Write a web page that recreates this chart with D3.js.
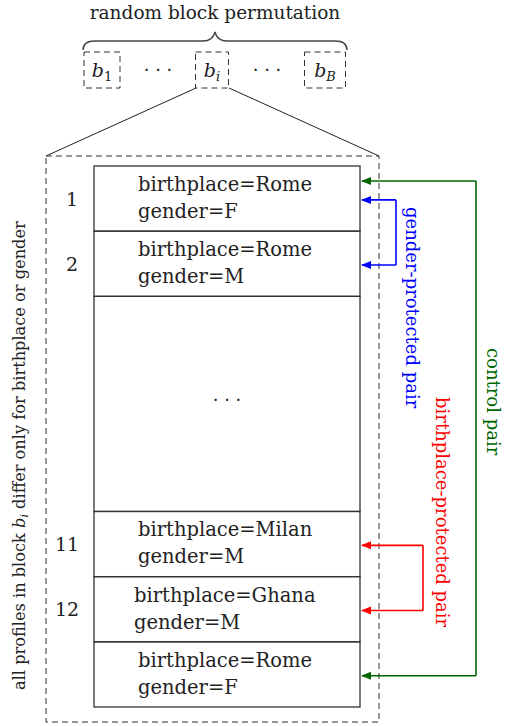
<!DOCTYPE html>
<html><head><meta charset="utf-8">
<script src="https://cdn.jsdelivr.net/npm/d3@7"></script>
<style>body{margin:0;background:#fff;} text{font-family:"DejaVu Serif",serif;fill:#222;}</style>
</head><body>
<svg id="c" width="505" height="726"></svg>
<script>
// ---- data ----
const title = "random block permutation";
const blocks = ["1", "···", "i", "···", "B"];
const rowIds = ["1", "2", "…", "11", "12", ""];
const birthplaces = ["Rome", "Rome", null, "Milan", "Ghana", "Rome"];
const genders = ["F", "M", null, "M", "M", "F"];
const rowWeights = [1, 1, 3.3, 1, 1, 1];
const pairs = [
  {name: "gender-protected pair", from: 0, to: 1, color: "#0000ff", fromFrac: 0.52, toFrac: 0.52},
  {name: "birthplace-protected pair", from: 3, to: 4, color: "#ff0000", fromFrac: 0.52, toFrac: 0.52},
  {name: "control pair", from: 0, to: 5, color: "#006600", fromFrac: 0.23, toFrac: 0.52}
];
const sideLabel = "all profiles in block ";

const svg = d3.select("#c");
const defs = svg.append("defs");
pairs.forEach((p,i)=>{
  defs.append("marker").attr("id","ah"+i).attr("viewBox","0 0 10 10").attr("refX",9).attr("refY",5)
    .attr("markerWidth",10).attr("markerHeight",10).attr("markerUnits","userSpaceOnUse").attr("orient","auto")
    .append("path").attr("d","M0,1 L10,5 L0,9 Z").attr("fill",p.color);
});

const cum = [0]; rowWeights.forEach(w=>cum.push(cum[cum.length-1]+w));
const y = d3.scaleLinear().domain([0, cum[cum.length-1]]).range([166, 707]);
const x0 = 94, x1 = 360;

svg.append("text").attr("x",215).attr("y",19).attr("text-anchor","middle").style("font-size","18.5px").text(title);
svg.append("path").attr("d","M83,50 Q83,41 95,41 L203,41 Q213,41 215,32 Q217,41 227,41 L335,41 Q347,41 347,50")
  .attr("fill","none").attr("stroke","#444").attr("stroke-width",1.4);

const bx = d3.scaleOrdinal().domain(d3.range(blocks.length)).range([102, 158, 212, 267, 325]);
const bw = [36, 0, 33, 0, 41];
blocks.forEach((b,i)=>{
  if (b === "···") {
    svg.append("text").attr("x",bx(i)).attr("y",76).attr("text-anchor","middle").style("font-size","18px").text("· · ·");
  } else {
    svg.append("rect").attr("x",bx(i)-bw[i]/2).attr("y",52).attr("width",bw[i]).attr("height",36)
      .attr("fill","none").attr("stroke","#333").attr("stroke-width",1).attr("stroke-dasharray","6,4");
    const t = svg.append("text").attr("x",bx(i)).attr("y",77).attr("text-anchor","middle").style("font-size","19px");
    t.append("tspan").style("font-style","italic").text("b");
    t.append("tspan").attr("dy",4).style("font-size","13px").style("font-style", b==="1"?"normal":"italic").text(b);
  }
});

svg.append("line").attr("x1",196).attr("y1",88).attr("x2",46).attr("y2",156).attr("stroke","#222");
svg.append("line").attr("x1",229).attr("y1",88).attr("x2",379).attr("y2",156).attr("stroke","#222");
svg.append("rect").attr("x",46).attr("y",156).attr("width",333).attr("height",566)
  .attr("fill","none").attr("stroke","#333").attr("stroke-width",1).attr("stroke-dasharray","6,4");

rowIds.forEach((id,i)=>{
  const top = y(cum[i]), bot = y(cum[i+1]);
  svg.append("rect").attr("x",x0).attr("y",top).attr("width",x1-x0).attr("height",bot-top)
    .attr("fill","none").attr("stroke","#333").attr("stroke-width",1.3);
  if (birthplaces[i] === null) {
    svg.append("text").attr("x",227).attr("y",(top+bot)/2+2).attr("text-anchor","middle").style("font-size","18px").text("· · ·");
    return;
  }
  const tx = birthplaces[i]==="Ghana" ? 134 : 138;
  svg.append("text").attr("x",tx).attr("y",top+25).style("font-size","19.5px").text("birthplace="+birthplaces[i]);
  svg.append("text").attr("x",tx).attr("y",top+52).style("font-size","19.5px").text("gender="+genders[i]);
  if (id) svg.append("text").attr("x",id.length>1?67:72).attr("y",(top+bot)/2+7).attr("text-anchor","middle").style("font-size","19px").text(id);
});

const ax = [396, 423, 476];
const lx = [406, 436, 487];
pairs.forEach((p,i)=>{
  const ya = y(cum[p.from]) + (y(cum[p.from+1])-y(cum[p.from]))*p.fromFrac;
  const yb = y(cum[p.to]) + (y(cum[p.to+1])-y(cum[p.to]))*p.toFrac;
  const g = svg.append("g").attr("stroke",p.color).attr("stroke-width",1.6).attr("fill","none");
  g.append("line").attr("x1",ax[i]).attr("y1",ya).attr("x2",ax[i]).attr("y2",yb);
  g.append("line").attr("x1",ax[i]).attr("y1",ya).attr("x2",x1+2).attr("y2",ya).attr("marker-end","url(#ah"+i+")");
  g.append("line").attr("x1",ax[i]).attr("y1",yb).attr("x2",x1+2).attr("y2",yb).attr("marker-end","url(#ah"+i+")");
});
const labelTop = [207, 397, 348];
pairs.forEach((p,i)=>{
  svg.append("text").attr("transform",`translate(${lx[i]},${labelTop[i]}) rotate(90)`)
    .style("font-size","18px").style("fill",p.color).text(p.name);
});

const st = svg.append("text").attr("transform","translate(25,690) rotate(-90)").style("font-size","16.2px");
st.append("tspan").text(sideLabel);
st.append("tspan").style("font-style","italic").text("b");
st.append("tspan").attr("dy",3).style("font-size","11px").style("font-style","italic").text("i");
st.append("tspan").attr("dy",-3).text(" differ only for birthplace or gender");
</script>
</body></html>
